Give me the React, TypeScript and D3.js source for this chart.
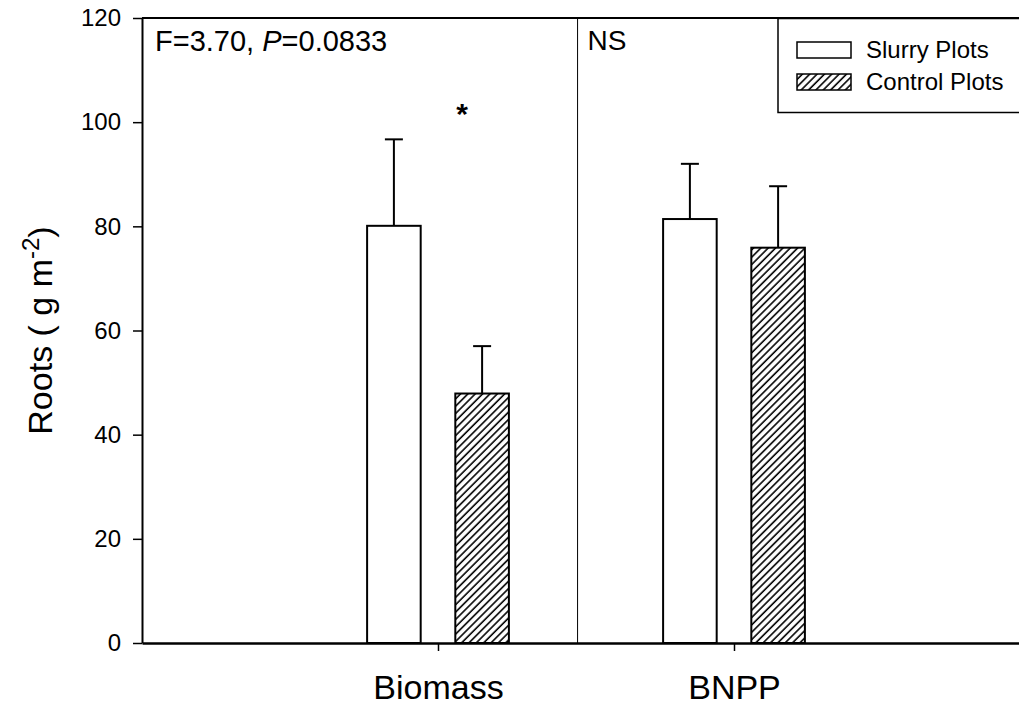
import React, { useEffect, useRef } from 'react';
import * as d3 from 'd3';

const categories = ['Biomass', 'BNPP'];
const slurryMeans = [80.1, 81.4];
const slurrySE = [16.6, 10.6];
const controlMeans = [47.9, 75.9];
const controlSE = [9.1, 11.8];
const yTicks = [0, 20, 40, 60, 80, 100, 120];
const legendLabels = ['Slurry Plots', 'Control Plots'];
const sigMarks = [{ cat: 'Biomass', value: 102, offset: 0.081 }];

const W = 1019;
const H = 710;
const FONT = '"Liberation Sans", Arial, Helvetica, sans-serif';

const App = () => {
  const ref = useRef<SVGSVGElement>(null);

  useEffect(() => {
    document.body.style.margin = '0';
    const svg = d3.select(ref.current);
    svg.selectAll('*').remove();

    const x = d3.scaleLinear().domain([0, 3]).range([142, 1030]);
    const y = d3.scaleLinear().domain([0, 120]).range([643, 18]);
    const catPos = (c: string) => categories.indexOf(c) + 1;
    const barW = 0.181;
    const off = 0.149;
    const divider = 1.4715;

    const defs = svg.append('defs');
    const pat = defs.append('pattern')
      .attr('id', 'hatch')
      .attr('patternUnits', 'userSpaceOnUse')
      .attr('width', 5.2)
      .attr('height', 10)
      .attr('patternTransform', 'rotate(45)');
    pat.append('rect').attr('width', 5.2).attr('height', 10).attr('fill', '#fff');
    pat.append('line')
      .attr('x1', 1).attr('y1', 0).attr('x2', 1).attr('y2', 10)
      .attr('stroke', '#000').attr('stroke-width', 1.6);

    // frame: top line and divider
    svg.append('line')
      .attr('x1', x(0)).attr('x2', W).attr('y1', y(120)).attr('y2', y(120))
      .attr('stroke', '#000').attr('stroke-width', 2);
    svg.append('line')
      .attr('x1', x(divider)).attr('x2', x(divider)).attr('y1', y(120)).attr('y2', y(0))
      .attr('stroke', '#000').attr('stroke-width', 1);

    const series = [
      { means: slurryMeans, se: slurrySE, dx: -off, fill: '#fff' },
      { means: controlMeans, se: controlSE, dx: off, fill: 'url(#hatch)' },
    ];

    series.forEach((s) => {
      const g = svg.append('g');
      categories.forEach((c, i) => {
        const cx = catPos(c) + s.dx;
        const left = x(cx - barW / 2);
        const right = x(cx + barW / 2);
        // error bar
        g.append('line')
          .attr('x1', x(cx)).attr('x2', x(cx))
          .attr('y1', y(s.means[i])).attr('y2', y(s.means[i] + s.se[i]))
          .attr('stroke', '#000').attr('stroke-width', 2);
        g.append('line')
          .attr('x1', x(cx) - 9).attr('x2', x(cx) + 9)
          .attr('y1', y(s.means[i] + s.se[i])).attr('y2', y(s.means[i] + s.se[i]))
          .attr('stroke', '#000').attr('stroke-width', 2);
        g.append('rect')
          .attr('x', left)
          .attr('y', y(s.means[i]))
          .attr('width', right - left)
          .attr('height', y(0) - y(s.means[i]))
          .attr('fill', s.fill)
          .attr('stroke', '#000')
          .attr('stroke-width', 2);
      });
    });

    // axes
    const yAxis = d3.axisLeft(y).tickValues(yTicks).tickSize(9).tickPadding(12).tickSizeOuter(0);
    const gy = svg.append('g').attr('transform', `translate(${x(0)},0)`).call(yAxis);
    gy.select('.domain').attr('stroke-width', 2);
    gy.selectAll('.tick line').attr('stroke-width', 1.5);
    gy.selectAll('.tick text').style('font', `24px ${FONT}`).attr('fill', '#000');

    const xAxis = d3.axisBottom(x).tickValues(categories.map(catPos))
      .tickFormat((d) => categories[(d as number) - 1])
      .tickSize(8).tickPadding(24).tickSizeOuter(0);
    const gx = svg.append('g').attr('transform', `translate(0,${y(0)})`).call(xAxis);
    gx.select('.domain').attr('stroke-width', 2.5);
    gx.selectAll('.tick line').attr('stroke-width', 1.5);
    gx.selectAll('.tick text').style('font', `34px ${FONT}`).attr('fill', '#000');

    // y label
    const yl = svg.append('text')
      .attr('transform', `translate(52,${(y(0) + y(120)) / 2}) rotate(-90)`)
      .attr('text-anchor', 'middle')
      .style('font', `34px ${FONT}`);
    yl.append('tspan').text('Roots ( g m');
    yl.append('tspan').attr('dy', -13).style('font-size', '24px').text('-2');
    yl.append('tspan').attr('dy', 13).text(')');

    // annotations
    const ft = svg.append('text').attr('x', 155).attr('y', 51).style('font', `29px ${FONT}`);
    ft.append('tspan').text('F=3.70, ');
    ft.append('tspan').style('font-style', 'italic').text('P');
    ft.append('tspan').text('=0.0833');

    svg.append('text').attr('x', x(divider) + 10).attr('y', 50)
      .style('font', `28px ${FONT}`).text('NS');

    sigMarks.forEach((m) => {
      svg.append('text')
        .attr('x', x(catPos(m.cat) + m.offset))
        .attr('y', y(m.value) + 12)
        .attr('text-anchor', 'middle')
        .style('font', `bold 30px ${FONT}`)
        .text('*');
    });

    // legend
    const lg = svg.append('g');
    lg.append('rect')
      .attr('x', 778).attr('y', 18.5).attr('width', 260).attr('height', 94)
      .attr('fill', '#fff').attr('stroke', '#000').attr('stroke-width', 1.5);
    legendLabels.forEach((lab, i) => {
      const sy = 42 + i * 32;
      lg.append('rect')
        .attr('x', 797).attr('y', sy).attr('width', 54).attr('height', 16)
        .attr('fill', i === 0 ? '#fff' : 'url(#hatch)')
        .attr('stroke', '#000').attr('stroke-width', 1.5);
      lg.append('text')
        .attr('x', 866).attr('y', sy + 16)
        .style('font', `24px ${FONT}`)
        .text(lab);
    });
  }, []);

  return <svg ref={ref} width={W} height={H} style={{ display: 'block', background: '#fff' }} />;
};

export default App;
